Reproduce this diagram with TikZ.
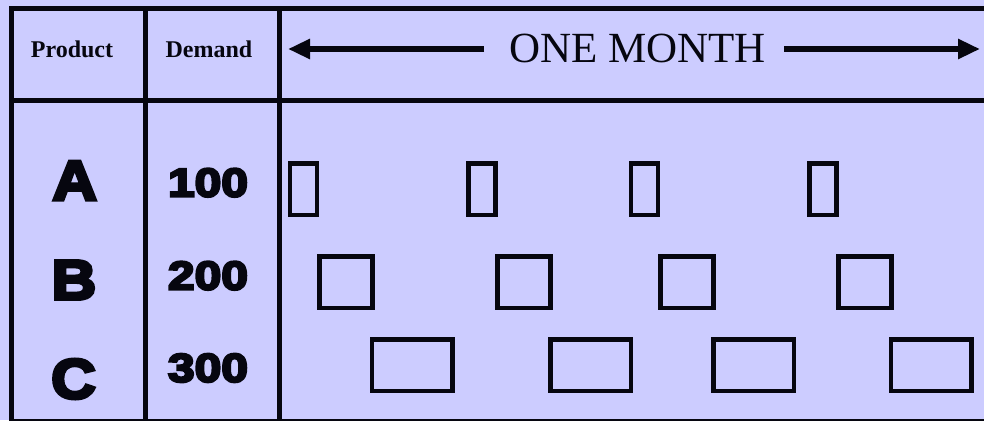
\documentclass[tikz,border=0pt]{standalone}
\usepackage{fontspec}
\setmainfont{Liberation Serif}
\newfontfamily\letterfont{Liberation Sans}[BoldFeatures={FakeBold=6,FakeStretch=1.1}]
\newfontfamily\digitfont{Liberation Sans}[BoldFeatures={FakeBold=6,FakeStretch=1.2}]
\usetikzlibrary{arrows.meta}
\definecolor{bgcol}{HTML}{CCCCFF}
\definecolor{inkcol}{HTML}{06060F}
\tikzset{
  gridline/.style={draw=inkcol, line width=5pt},
  headtext/.style={inner sep=0pt, text=inkcol, font=\fontsize{24}{26}\selectfont\bfseries},
  monthtext/.style={inner sep=0pt, text=inkcol, font=\fontsize{43}{45}\selectfont},
  lettertext/.style={inner sep=0pt, text=inkcol, font=\letterfont\fontsize{56}{58}\selectfont\bfseries},
  digittext/.style={inner sep=0pt, text=inkcol, font=\digitfont\fontsize{40}{42}\selectfont\bfseries},
  runbox/.style={draw=inkcol, line width=4.5pt, inner sep=0pt, minimum height=51.5pt},
  abox/.style={runbox, minimum width=27pt},
  bbox/.style={runbox, minimum width=53pt},
  cbox/.style={runbox, minimum width=80.5pt},
  spanarrow/.style={draw=inkcol, line width=6pt, -{Triangle[length=22pt,width=19pt]}}
}
\begin{document}
\begin{tikzpicture}[x=1pt,y=-1pt]
\useasboundingbox (0,0) rectangle (984,420);
\clip (0,0) rectangle (984,420);
\fill[bgcol] (0,0) rectangle (984,420);
% table grid
\draw[gridline] (11,421) -- (11,8.5) -- (995,8.5);
\draw[gridline] (11,421) -- (995,421);
\draw[gridline] (11,100) -- (995,100);
\draw[gridline] (145,8.5) -- (145,421);
\draw[gridline] (279.5,8.5) -- (279.5,421);
% header
\node[headtext] (hprod) at (72,49) {Product};
\node[headtext] (hdem) at (209,49) {Demand};
\node[monthtext] (month) at (637.5,48.7) {ONE MONTH};
\coordinate (lstart) at (484,49);
\coordinate (lend) at (288,49);
\coordinate (rstart) at (784,49);
\coordinate (rend) at (980,49);
\draw[spanarrow] (lstart) -- (lend);
\draw[spanarrow] (rstart) -- (rend);
% products
\node[lettertext] (pa) at (74.7,180.7) {A};
\node[lettertext] (pb) at (74,280) {B};
\node[lettertext] (pc) at (73.5,379) {C};
\node[digittext] (da) at (208,182.7) {100};
\node[digittext] (db) at (208,275.7) {200};
\node[digittext] (dc) at (208,368) {300};
% production runs
\node[abox] (a1) at (303.5,189) {};
\node[abox] (a2) at (482,189) {};
\node[abox] (a3) at (644.5,189) {};
\node[abox] (a4) at (823,189) {};
\node[bbox] (b1) at (346,282) {};
\node[bbox] (b2) at (524,282) {};
\node[bbox] (b3) at (687,282) {};
\node[bbox] (b4) at (865,282) {};
\node[cbox] (c1) at (412,365) {};
\node[cbox] (c2) at (590.5,365) {};
\node[cbox] (c3) at (753.5,365) {};
\node[cbox] (c4) at (931,365) {};
\end{tikzpicture}
\end{document}
